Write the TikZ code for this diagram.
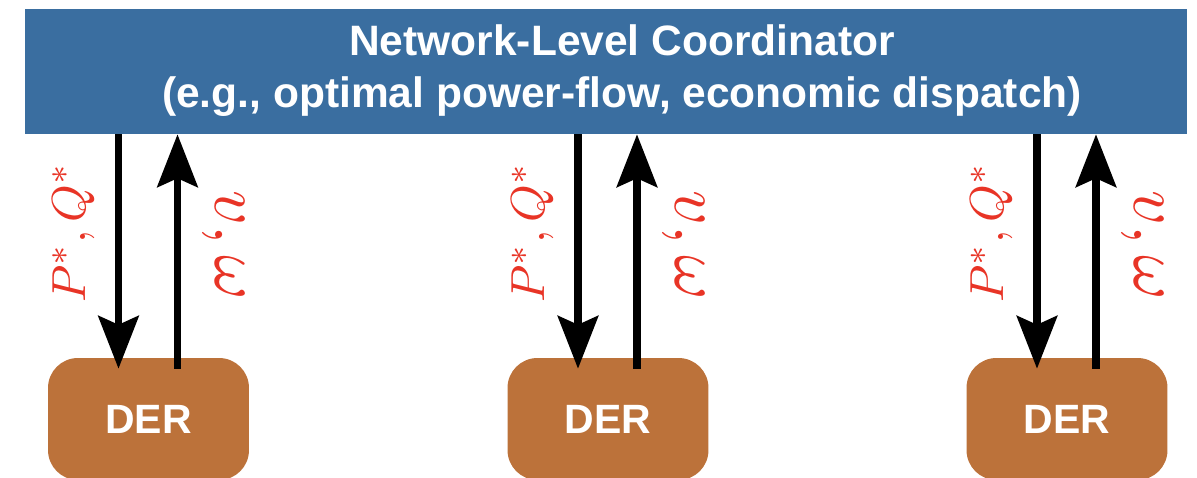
\documentclass[tikz,border=0pt]{standalone}
\usepackage{graphicx}
\usepackage{fontspec}
\setmainfont{Liberation Sans}
\usetikzlibrary{arrows.meta,calc}
\definecolor{netblue}{RGB}{58,110,160}
\definecolor{derbrown}{RGB}{188,114,58}
\definecolor{sigred}{RGB}{232,52,38}
\begin{document}
\begin{tikzpicture}[x=0.02cm, y=-0.02cm,
    bar/.style = {fill=netblue, minimum width=23.24cm, minimum height=2.5cm,
                  inner sep=0pt},
    ttl/.style = {align=center, text=white, inner sep=0pt,
                  font=\fontsize{24.2}{29.5}\selectfont\bfseries},
    der/.style = {fill=derbrown, rounded corners=17pt, minimum width=4.02cm,
                  minimum height=2.44cm, text=white, inner sep=0pt,
                  font=\fontsize{23.3}{27}\selectfont\bfseries},
    sig/.style = {line width=4pt, -{Stealth[length=30pt, width=23pt, inset=5pt]}},
    lbl/.style = {text=sigred, inner sep=0pt},
  ]
    \useasboundingbox (0,0) rectangle (1197,477);
    \node[bar] (coord) at (606,71.5) {};
    \node[ttl] (title) at (622,71) {Network-Level Coordinator\\
                                   (e.g., optimal power-flow, economic dispatch)};

    \foreach \i/\x in {1/148.5, 2/608, 3/1067} {
      \node[der] (der\i) at (\x,419) {DER};
      \draw[sig] ($(der\i.north |- coord.south)+(-30,0)$) -- ($(der\i.north)+(-30,11)$);
      \draw[sig] ($(der\i.north)+(29,11)$) -- ($(der\i.north |- coord.south)+(29,0)$);
      \node[lbl, rotate=90]  (pq\i) at ($(der\i.north)+(-75,-125)$) {\scalebox{2.72}{$P^*, Q^*$}};
      \node[lbl, rotate=-90] (vw\i) at ($(der\i.north)+(75,-112)$)  {\scalebox{3.85}{$v, \omega$}};
    }
\end{tikzpicture}
\end{document}
